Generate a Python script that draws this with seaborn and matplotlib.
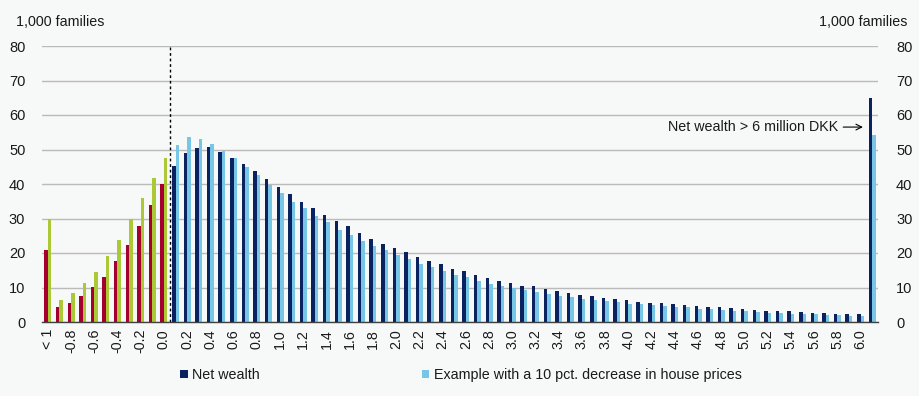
import numpy as np
import pandas as pd
import matplotlib
matplotlib.use("Agg")
import matplotlib.pyplot as plt
from matplotlib.patches import Patch
import seaborn as sns

# ---------------- data ----------------
categories = ["< 1", "-0.9", "-0.8", "-0.7", "-0.6", "-0.5", "-0.4", "-0.3", "-0.2", "-0.1",
              "0.0", "0.1", "0.2", "0.3", "0.4", "0.5", "0.6", "0.7", "0.8", "0.9",
              "1.0", "1.1", "1.2", "1.3", "1.4", "1.5", "1.6", "1.7", "1.8", "1.9",
              "2.0", "2.1", "2.2", "2.3", "2.4", "2.5", "2.6", "2.7", "2.8", "2.9",
              "3.0", "3.1", "3.2", "3.3", "3.4", "3.5", "3.6", "3.7", "3.8", "3.9",
              "4.0", "4.1", "4.2", "4.3", "4.4", "4.5", "4.6", "4.7", "4.8", "4.9",
              "5.0", "5.1", "5.2", "5.3", "5.4", "5.5", "5.6", "5.7", "5.8", "5.9",
              "6.0", "> 6"]

net_wealth = [21.0, 4.3, 5.5, 7.5, 10.1, 13.0, 17.7, 22.3, 27.8, 33.9,
              40.0, 45.3, 48.9, 50.3, 50.6, 49.2, 47.4, 45.8, 43.7, 41.4,
              39.1, 37.2, 34.9, 33.1, 30.9, 29.2, 27.7, 25.7, 24.0, 22.7,
              21.4, 20.2, 18.8, 17.8, 16.8, 15.4, 14.7, 13.6, 12.8, 12.0,
              11.3, 10.5, 10.3, 9.6, 8.9, 8.3, 7.8, 7.4, 7.1, 6.8,
              6.3, 5.8, 5.5, 5.5, 5.2, 4.8, 4.6, 4.3, 4.3, 4.0,
              3.7, 3.4, 3.2, 3.2, 3.1, 2.8, 2.6, 2.6, 2.3, 2.3,
              2.3, 64.8]

house_drop = [30.0, 6.4, 8.4, 11.3, 14.5, 19.1, 23.8, 29.9, 35.9, 41.7,
              47.5, 51.3, 53.5, 52.9, 51.5, 49.5, 47.4, 44.8, 42.5, 39.8,
              37.3, 34.9, 32.9, 30.7, 28.9, 26.6, 25.3, 23.4, 22.0, 20.8,
              19.3, 18.3, 16.8, 15.9, 14.7, 13.6, 13.0, 12.0, 11.0, 10.4,
              9.8, 9.4, 8.8, 8.1, 7.5, 7.3, 6.8, 6.3, 6.0, 5.7,
              5.2, 5.2, 4.8, 4.5, 4.3, 4.3, 3.8, 3.8, 3.5, 3.1,
              3.1, 2.8, 2.6, 2.6, 2.3, 2.3, 2.3, 2.0, 2.0, 1.8,
              1.8, 54.1]

series_names = ["Net wealth", "Example with a 10 pct. decrease in house prices"]
n_negative = 11  # categories up to and including 0.0 are coloured differently

yticks = [0, 10, 20, 30, 40, 50, 60, 70, 80]
unit_label = "1,000 families"
annotation = "Net wealth > 6 million DKK"

# ---------------- style ----------------
navy = "#0b2260"
light_blue = "#78c6e6"
red = "#a3002e"
green = "#abc937"
bg = "#f7f8f8"
txt = "#1a1a1a"
fs = 10.3

sns.set_style("white")
plt.rcParams["font.family"] = ["Liberation Sans", "DejaVu Sans"]
plt.rcParams["font.size"] = fs

df = pd.DataFrame({
    "category": categories * 2,
    "value": net_wealth + house_drop,
    "series": [series_names[0]] * len(categories) + [series_names[1]] * len(categories),
})

fig = plt.figure(figsize=(9.19, 3.96), dpi=100, facecolor=bg)
ax = fig.add_axes([42 / 919, 1 - 322 / 396, (878 - 42) / 919, (322 - 46) / 396])
ax.set_facecolor(bg)

sns.barplot(data=df, x="category", y="value", hue="series", order=categories,
            hue_order=series_names, palette=[navy, light_blue], width=0.6,
            errorbar=None, legend=False, ax=ax, saturation=1, linewidth=0)

# recolour negative-wealth bars
for cont, col in zip(ax.containers, [red, green]):
    for i, bar in enumerate(cont.patches if hasattr(cont, "patches") else cont):
        if i < n_negative:
            bar.set_facecolor(col)

ax.set_xlim(-0.5, len(categories) - 0.5)
ax.set_ylim(0, 80)
ax.set_yticks(yticks)
ax.set_xlabel("")
ax.set_ylabel("")
ax.set_axisbelow(True)
ax.yaxis.grid(True, color="#bababa", linewidth=1.0)
ax.xaxis.grid(False)

for s in ["top", "left", "right"]:
    ax.spines[s].set_visible(False)
ax.spines["bottom"].set_color("#404040")
ax.spines["bottom"].set_linewidth(1.0)

major_pos = list(range(0, len(categories) - 1, 2))
ax.set_xticks(major_pos)
ax.set_xticklabels([categories[i] for i in major_pos], rotation=90, va="top", ha="center")
ax.set_xticks(np.arange(-0.5, len(categories), 1), minor=True)
ax.tick_params(axis="x", which="major", length=0, pad=5, labelsize=fs, colors=txt)
ax.tick_params(axis="x", which="minor", length=4, width=1, color="#404040")
ax.tick_params(axis="y", length=0, pad=12, labelsize=10.5, colors=txt)

# right axis
ax2 = ax.twinx()
ax2.set_ylim(0, 80)
ax2.set_yticks(yticks)
ax2.tick_params(axis="y", length=0, pad=13, labelsize=10.5, colors=txt)
for s in ["top", "left", "right", "bottom"]:
    ax2.spines[s].set_visible(False)

# dashed divider between negative and positive wealth
ax.axvline(10.5, color="black", linewidth=1.0, linestyle=(0, (2, 2)), zorder=5)

# annotation
ax.annotate(annotation, xy=(70.2, 56.5), xytext=(68.1, 56.5), ha="right", va="center",
            fontsize=fs, color=txt,
            arrowprops=dict(arrowstyle="->", color="black", lw=0.8, shrinkA=1, shrinkB=0))

fig.text(16 / 919, 1 - 22 / 396, unit_label, ha="left", va="center", fontsize=fs, color=txt)
fig.text(907 / 919, 1 - 22 / 396, unit_label, ha="right", va="center", fontsize=fs, color=txt)

handles = [Patch(facecolor=navy, edgecolor="none"), Patch(facecolor=light_blue, edgecolor="none")]
fig.legend(handles, series_names, loc="center left", bbox_to_anchor=(180 / 919, 1 - 375 / 396),
           ncol=2, frameon=False, handlelength=0.55, handleheight=0.55, handletextpad=0.3,
           columnspacing=11.3, borderpad=0, borderaxespad=0, fontsize=fs,
           labelcolor=txt)

fig.savefig("out.png", dpi=100, facecolor=bg)
